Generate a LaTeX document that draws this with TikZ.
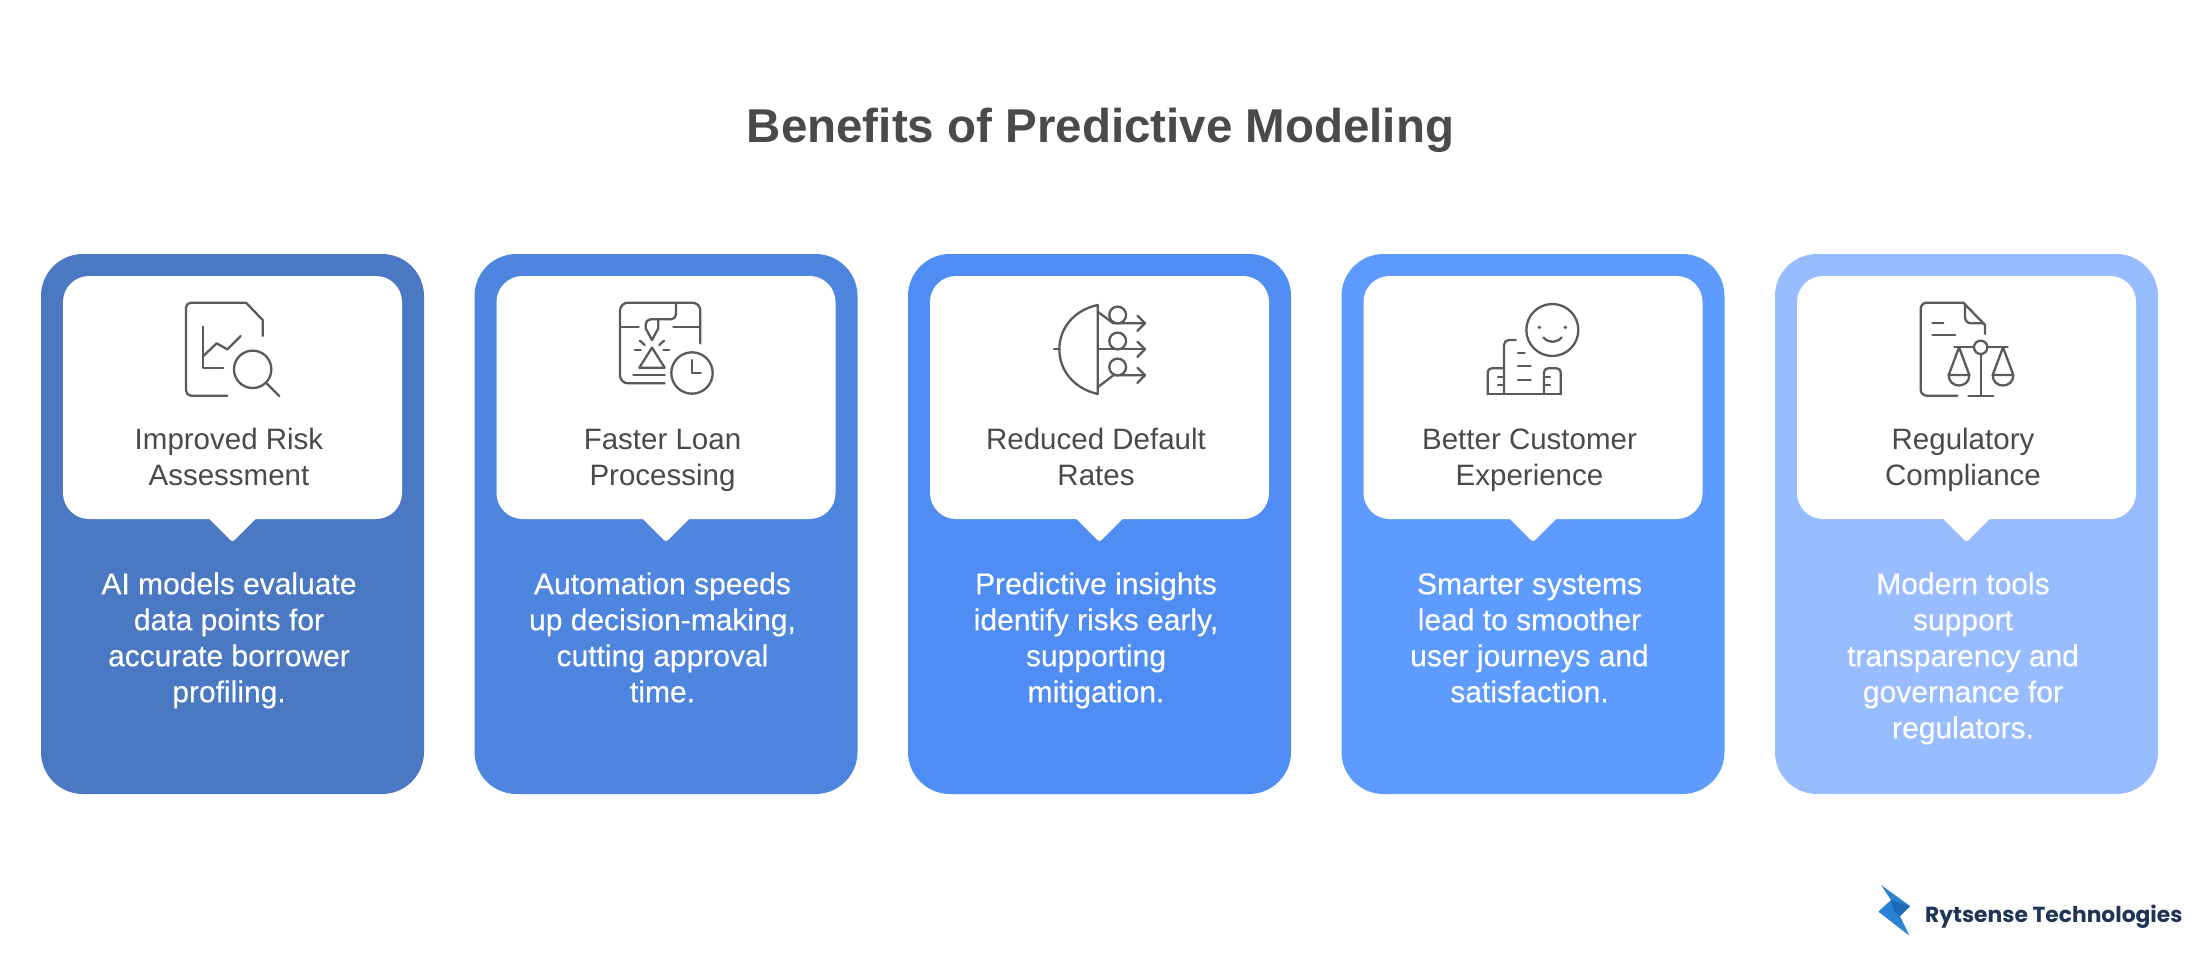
\documentclass[tikz,border=0pt]{standalone}
\usepackage{fontspec}
\usetikzlibrary{calc}
\setmainfont{Liberation Sans}
\newfontfamily\logofont{Poppins}
\newfontfamily\descfont[FakeBold=0.3]{Liberation Sans}
\definecolor{inkgrey}{HTML}{4A4A4A}
\definecolor{iconline}{HTML}{5A5A5A}
\definecolor{cardA}{HTML}{4A78C2}
\definecolor{cardB}{HTML}{4E85DF}
\definecolor{cardC}{HTML}{4F8CF3}
\definecolor{cardD}{HTML}{5E9BFF}
\definecolor{cardE}{HTML}{97BCFF}
\definecolor{logoblue}{HTML}{2A82D2}
\definecolor{logodark}{HTML}{1B6CB4}
\definecolor{logotext}{HTML}{1F3557}
\tikzset{
  card/.style={rounded corners=42pt,minimum width=383pt,minimum height=540pt,inner sep=0pt,draw=none},
  panel/.style={fill=white,rounded corners=26pt,minimum width=339pt,minimum height=243pt,inner sep=0pt},
  headtext/.style={text=inkgrey,align=center,anchor=north,inner sep=0pt,font=\fontsize{29.5}{36}\selectfont},
  desctext/.style={text=white,align=center,anchor=north,inner sep=0pt,font=\descfont\fontsize{30}{36}\selectfont},
  ico/.style={draw=iconline,line width=2.3pt,line cap=round,line join=round},
  icogrid/.style={x=0.33333pt,y=-0.33333pt}
}
\newcommand{\benefit}[4]{%
  \node[card,fill=card#1] (card#1) at (#2,524) {};
  \node[panel] (panel#1) at (#2,397.5) {};
  \fill[white,rounded corners=3pt] ($(panel#1.south)+(-27,-4)$) -- ($(panel#1.south)+(0,23)$) -- ($(panel#1.south)+(27,-4)$) -- cycle;
  \node[headtext] (head#1) at ($(#2,449)+(-3.5,-25.2)$) {\strut #3};
  \node[desctext] (desc#1) at ($(#2,594)+(-3.5,-25.2)$) {\strut #4};
}
\begin{document}
\begin{tikzpicture}[x=1pt,y=-1pt]
\useasboundingbox (0,0) rectangle (2208,960);
\fill[white] (0,0) rectangle (2208,960);
\node[text=inkgrey,inner sep=0pt,anchor=base,font=\fontsize{47.5}{56}\selectfont\bfseries] (title) at (1100.5,143) {Benefits of Predictive Modeling};

\benefit{A}{232.5}{Improved Risk\\Assessment}{AI models evaluate\\data points for\\accurate borrower\\profiling.}
\benefit{B}{666}{Faster Loan\\Processing}{Automation speeds\\up decision-making,\\cutting approval\\time.}
\benefit{C}{1099.5}{Reduced Default\\Rates}{Predictive insights\\identify risks early,\\supporting\\mitigation.}
\benefit{D}{1533}{Better Customer\\Experience}{Smarter systems\\lead to smoother\\user journeys and\\satisfaction.}
\benefit{E}{1966.5}{Regulatory\\Compliance}{Modern tools\\support\\transparency and\\governance for\\regulators.}

% icon 1
\begin{scope}[shift={(150,280)},icogrid]
\draw[ico,rounded corners=5pt] (232,347) -- (108,347) -- (108,68) -- (288,68);
\draw[ico] (288,68) -- (338,120) -- (338,168);
\draw[ico] (158,140) -- (158,263) -- (220,263);
\draw[ico] (158,230) -- (200,190) -- (232,208) -- (272,168);
\draw[ico] (308,268) circle[radius=18.7pt];
\draw[ico] (350,310) -- (388,348);
\end{scope}
% icon 2
\begin{scope}[shift={(580,280)},icogrid]
\draw[ico,rounded corners=8pt] (254,310) -- (120,310) -- (120,68) -- (361,68) -- (361,190);
\draw[ico] (120,142) -- (176,142);
\draw[ico] (280,142) -- (361,142);
\draw[ico,rounded corners=5pt] (288,68) -- (288,118) -- (197,118) -- (197,145);
\draw[ico] (197,145) -- (216,180) -- (235,145) -- (235,118);
\draw[ico] (216,203) -- (254,263) -- (178,263) -- cycle;
\draw[ico] (180,182) -- (194,195);
\draw[ico] (252,182) -- (238,195);
\draw[ico] (165,211) -- (182,211);
\draw[ico] (250,211) -- (267,211);
\draw[ico] (160,286) -- (254,286);
\draw[ico] (336,279) circle[radius=20.7pt];
\draw[ico] (336,240) -- (336,279) -- (362,279);
\end{scope}
% icon 3
\begin{scope}[shift={(1020,280)},icogrid]
\draw[ico] (233,75) -- (233,342) .. controls (160,325) and (118,270) .. (118,208) .. controls (118,146) and (160,91) .. (233,75);
\draw[ico] (102,208) -- (118,208);
\draw[ico] (233,208) -- (375,208);
\draw[ico] (352,185) -- (375,208) -- (352,231);
\draw[ico] (233,95) -- (280,130) -- (375,130);
\draw[ico] (352,107) -- (375,130) -- (352,153);
\draw[ico] (233,322) -- (280,286) -- (375,286);
\draw[ico] (352,263) -- (375,286) -- (352,309);
\draw[ico] (293,105) circle[radius=8.4pt];
\draw[ico] (293,183) circle[radius=8.4pt];
\draw[ico] (293,261) circle[radius=8.4pt];
\end{scope}
% icon 4
\begin{scope}[shift={(1450,280)},icogrid]
\draw[ico] (307,150) circle[radius=26pt];
\fill[iconline] (268,142) circle[radius=1.9pt];
\fill[iconline] (346,142) circle[radius=1.9pt];
\draw[ico] (280,172) .. controls (295,190) and (320,190) .. (335,172);
\draw[ico,rounded corners=5pt] (197,180) -- (162,180) -- (162,343);
\draw[ico] (113,343) -- (332,343);
\draw[ico,rounded corners=4pt] (162,265) -- (113,265) -- (113,343);
\draw[ico,rounded corners=4pt] (282,343) -- (282,265) -- (332,265) -- (332,343);
\draw[ico] (204,218) -- (224,218);
\draw[ico] (204,259) -- (242,259);
\draw[ico] (204,299) -- (242,299);
\draw[ico] (144,291) -- (162,291);
\draw[ico] (144,316) -- (162,316);
\draw[ico] (282,291) -- (300,291);
\draw[ico] (282,316) -- (300,316);
\end{scope}
% icon 5
\begin{scope}[shift={(1880,280)},icogrid]
\draw[ico,rounded corners=6pt] (232,347) -- (122,347) -- (122,68) -- (250,68);
\draw[ico] (250,68) -- (315,135) -- (315,162);
\draw[ico,rounded corners=6pt] (255,72) -- (255,130) -- (312,130);
\draw[ico] (157,129) -- (190,129);
\draw[ico] (157,165) -- (226,165);
\draw[ico] (302,202) circle[radius=6.7pt];
\draw[ico] (223,202) -- (282,202);
\draw[ico] (322,202) -- (383,202);
\draw[ico] (302,222) -- (302,347);
\draw[ico] (265,347) -- (340,347);
\draw[ico] (237,202) -- (206,285) -- (268,285) -- cycle;
\draw[ico] (206,285) .. controls (206,327) and (268,327) .. (268,285);
\draw[ico] (369,202) -- (338,285) -- (400,285) -- cycle;
\draw[ico] (338,285) .. controls (338,327) and (400,327) .. (400,285);
\end{scope}
% logo
\begin{scope}[shift={(1860,870)},icogrid]
\fill[logoblue] (63,45) -- (150,108) -- (120,138) -- (148,197) -- (55,125) -- (93,90) -- cycle;
\fill[logodark] (93,90) -- (150,108) -- (120,138) -- (100,120) -- cycle;
\end{scope}
\node[text=logotext,inner sep=0pt,anchor=base west,font=\logofont\bfseries\fontsize{21.8}{26}\selectfont] (logotype) at (1925,922) {Rytsense Technologies};
\end{tikzpicture}
\end{document}
